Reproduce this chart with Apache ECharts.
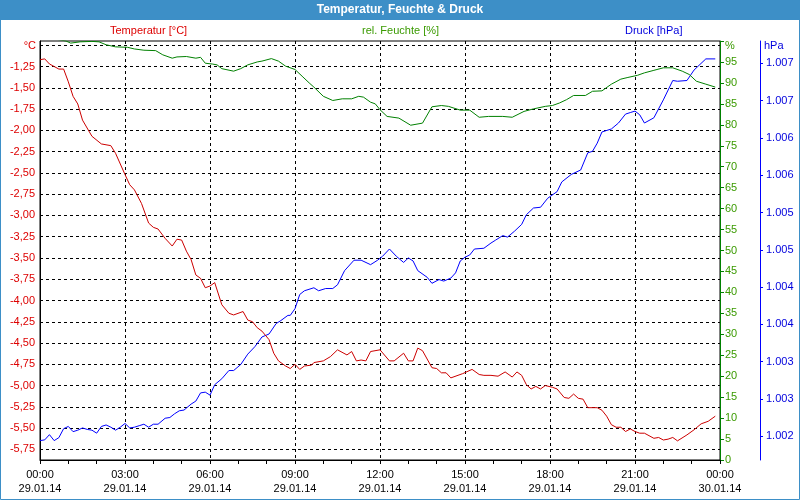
<!DOCTYPE html>
<html>
<head>
<meta charset="utf-8">
<script src="https://cdn.jsdelivr.net/npm/echarts@6/dist/echarts.min.js"></script>
<style>
html,body{margin:0;padding:0;background:#fff;}
#chart{width:800px;height:500px;}
</style>
</head>
<body>
<div id="chart"></div>
<script>
// minutes since 29.01.14 00:00
const tempTime = [0,10,20,30,40,50,60,70,80,90,110,130,150,160,180,190,200,215,230,240,250,265,280,290,300,310,320,330,340,350,360,370,385,400,410,430,440,450,460,470,485,495,505,520,530,540,550,560,575,580,600,615,630,650,660,670,680,690,700,720,740,750,770,780,790,800,810,830,840,850,860,870,895,915,930,940,955,970,985,1000,1010,1020,1030,1040,1050,1060,1070,1085,1095,1110,1120,1130,1140,1150,1160,1180,1190,1200,1210,1220,1230,1240,1250,1260,1270,1280,1300,1310,1320,1330,1340,1350,1370,1385,1400,1415,1430];
const tempValues = [-1.17,-1.16,-1.22,-1.25,-1.28,-1.28,-1.43,-1.60,-1.69,-1.88,-2.07,-2.16,-2.18,-2.27,-2.52,-2.64,-2.70,-2.86,-3.09,-3.14,-3.16,-3.27,-3.36,-3.28,-3.29,-3.42,-3.52,-3.70,-3.74,-3.85,-3.83,-3.79,-4.05,-4.15,-4.17,-4.13,-4.23,-4.25,-4.32,-4.36,-4.46,-4.62,-4.71,-4.77,-4.80,-4.75,-4.81,-4.77,-4.76,-4.73,-4.71,-4.66,-4.58,-4.64,-4.60,-4.71,-4.70,-4.71,-4.60,-4.58,-4.71,-4.71,-4.62,-4.71,-4.71,-4.56,-4.59,-4.79,-4.80,-4.85,-4.85,-4.91,-4.86,-4.81,-4.87,-4.88,-4.88,-4.89,-4.84,-4.90,-4.84,-4.88,-4.99,-5.04,-5.01,-5.04,-5.00,-5.02,-5.04,-5.14,-5.15,-5.10,-5.15,-5.16,-5.26,-5.26,-5.29,-5.36,-5.46,-5.49,-5.49,-5.54,-5.51,-5.54,-5.56,-5.56,-5.62,-5.61,-5.64,-5.63,-5.61,-5.65,-5.58,-5.52,-5.45,-5.42,-5.36];

const humTime = [0,30,55,65,85,110,125,140,160,185,200,220,245,260,280,290,310,330,340,350,365,375,385,410,425,440,460,470,490,505,520,540,555,570,580,600,620,640,660,675,685,700,710,720,735,760,785,810,830,850,865,890,910,930,950,980,1000,1025,1045,1070,1085,1100,1115,1130,1155,1170,1190,1210,1230,1245,1265,1280,1300,1320,1340,1360,1375,1390,1410,1430];
const humValues = [100.8,100.5,100.0,99.5,99.8,99.9,99.8,99.1,98.6,98.5,98.1,97.8,97.7,96.7,95.9,96.2,96.3,95.9,96.1,94.7,94.5,94.3,93.4,92.8,93.4,94.3,95.0,95.2,95.8,95.2,94.0,93.2,91.6,90.0,89.0,86.8,85.8,86.2,86.2,86.8,86.6,85.4,85.0,83.6,82.0,81.6,79.9,80.4,84.3,84.6,84.4,83.5,83.5,81.8,82.0,82.0,81.8,83.2,83.8,84.4,84.6,85.2,86.0,87.0,87.0,88.0,88.1,89.7,90.9,91.3,91.8,92.4,93.0,93.6,93.6,92.8,92.0,90.4,89.7,89.0];

const presTime = [0,10,20,30,40,50,60,70,80,90,100,110,120,130,140,150,160,170,180,190,200,210,220,230,240,250,265,275,285,295,305,320,330,340,350,360,370,385,400,410,425,440,455,470,485,500,510,525,530,540,550,560,580,590,605,620,630,645,665,680,700,715,725,740,755,770,780,790,800,820,830,845,855,870,880,890,900,910,920,940,955,965,980,990,1005,1020,1030,1045,1060,1075,1095,1105,1125,1145,1160,1170,1180,1190,1210,1225,1240,1250,1260,1270,1280,1300,1320,1340,1350,1370,1385,1410,1430];
const presValues = [1001.94,1001.95,1002.02,1001.94,1001.98,1002.10,1002.13,1002.06,1002.08,1002.11,1002.09,1002.08,1002.04,1002.13,1002.15,1002.12,1002.08,1002.12,1002.17,1002.11,1002.12,1002.14,1002.16,1002.12,1002.16,1002.16,1002.24,1002.25,1002.30,1002.34,1002.35,1002.43,1002.47,1002.58,1002.59,1002.55,1002.69,1002.77,1002.88,1002.88,1002.96,1003.10,1003.20,1003.33,1003.37,1003.51,1003.55,1003.62,1003.62,1003.71,1003.90,1003.95,1003.99,1003.95,1003.98,1003.98,1004.03,1004.22,1004.36,1004.36,1004.30,1004.36,1004.41,1004.51,1004.41,1004.33,1004.39,1004.35,1004.22,1004.13,1004.05,1004.10,1004.08,1004.12,1004.19,1004.35,1004.40,1004.43,1004.51,1004.52,1004.59,1004.63,1004.69,1004.67,1004.75,1004.84,1004.97,1005.06,1005.07,1005.19,1005.28,1005.41,1005.51,1005.57,1005.80,1005.82,1005.93,1006.08,1006.12,1006.20,1006.32,1006.34,1006.36,1006.31,1006.20,1006.27,1006.51,1006.77,1006.76,1006.77,1006.91,1007.06,1007.06];

const xTickLabels = ['00:00\n29.01.14','03:00\n29.01.14','06:00\n29.01.14','09:00\n29.01.14','12:00\n29.01.14','15:00\n29.01.14','18:00\n29.01.14','21:00\n29.01.14','00:00\n30.01.14'];
const presTicks = [1002,1002.5,1003,1003.5,1004,1004.5,1005,1005.5,1006,1006.5,1007];

const pair = (t, v) => t.map((x, i) => [x, v[i]]);
const FONT = 'Liberation Sans';
const RED = '#dd0000', GREEN_T = '#3a9a00', BLUE_T = '#0000dd';

const chart = echarts.init(document.getElementById('chart'), null, {renderer: 'canvas'});
chart.setOption({
  animation: false,
  backgroundColor: '#fff',
  textStyle: {fontFamily: FONT},
  graphic: [
    {type: 'rect', shape: {x: 0, y: 0, width: 800, height: 20}, style: {fill: '#3d8fc7'}},
    {type: 'rect', shape: {x: 0.5, y: 0.5, width: 799, height: 499}, style: {fill: 'none', stroke: '#3d8fc7', lineWidth: 1}}
  ],
  title: [
    {text: 'Temperatur, Feuchte & Druck', left: 'center', top: 4, padding: 0,
     textStyle: {color: '#fff', fontSize: 12, fontWeight: 'bold', fontFamily: FONT}},
    {text: 'Temperatur [°C]', left: 110, top: 25, padding: 0,
     textStyle: {color: RED, fontSize: 11, fontWeight: 'normal', fontFamily: FONT}},
    {text: 'rel. Feuchte [%]', left: 362, top: 25, padding: 0,
     textStyle: {color: GREEN_T, fontSize: 11, fontWeight: 'normal', fontFamily: FONT}},
    {text: 'Druck [hPa]', left: 625, top: 25, padding: 0,
     textStyle: {color: BLUE_T, fontSize: 11, fontWeight: 'normal', fontFamily: FONT}}
  ],
  grid: {left: 40, right: 80, top: 41, bottom: 40, show: true, borderColor: '#000', borderWidth: 1, containLabel: false},
  xAxis: {
    type: 'value', min: 0, max: 1440, interval: 180,
    axisLine: {lineStyle: {color: '#000', width: 1}},
    axisTick: {show: true, length: 4, lineStyle: {color: '#000'}},
    minorTick: {show: true, splitNumber: 3, length: 4, lineStyle: {color: '#000'}},
    splitLine: {show: true, showMinLine: false, showMaxLine: false, lineStyle: {color: '#000', type: [3, 3], width: 1}},
    axisLabel: {color: '#000', fontSize: 11, fontFamily: FONT, lineHeight: 14, margin: 8,
      formatter: v => xTickLabels[Math.round(v / 180)] || ''}
  },
  yAxis: [
    {
      type: 'value', position: 'left', min: -5.875, max: -0.95, interval: 0.125,
      axisLine: {show: true, lineStyle: {color: '#000', width: 1}},
      axisTick: {show: false},
      splitLine: {show: true, showMinLine: false, showMaxLine: false,
        lineStyle: {color: ['#000', 'rgba(0,0,0,0)'], type: [3, 3], width: 1}},
      axisLabel: {color: RED, fontSize: 11, fontFamily: FONT, margin: 5,
        formatter: v => {
          const q = v * 4;
          if (Math.abs(q - Math.round(q)) > 1e-6 || v > -1.2) return '';
          return v.toFixed(2).replace('.', ',');
        }},
      name: '°C', nameLocation: 'end', nameGap: -5,
      nameTextStyle: {color: RED, fontSize: 11, fontFamily: FONT, align: 'right', verticalAlign: 'middle', padding: [0, 4, 0, 0]}
    },
    {
      type: 'value', position: 'right', min: 0, max: 100, interval: 5,
      axisLine: {show: true, lineStyle: {color: '#008000', width: 1}},
      axisTick: {show: true, length: 4, lineStyle: {color: '#008000'}},
      splitLine: {show: false},
      axisLabel: {color: GREEN_T, fontSize: 11, fontFamily: FONT, margin: 5,
        formatter: v => v >= 100 ? '' : String(v)},
      name: '%', nameLocation: 'end', nameGap: -5,
      nameTextStyle: {color: GREEN_T, fontSize: 11, fontFamily: FONT, align: 'left', verticalAlign: 'middle', padding: [0, 0, 0, 5]}
    },
    {
      type: 'value', position: 'right', offset: 40, min: 1001.68, max: 1007.3, splitNumber: 11,
      axisLine: {show: true, lineStyle: {color: '#0000ff', width: 1}},
      axisTick: {show: true, length: 3, customValues: presTicks, lineStyle: {color: '#0000ff'}},
      splitLine: {show: false},
      axisLabel: {color: BLUE_T, fontSize: 11, fontFamily: FONT, margin: 6, customValues: presTicks,
        formatter: v => {
          const r = Math.round(v);
          return Math.floor(r / 1000) + '.' + String(r % 1000).padStart(3, '0');
        }},
      name: 'hPa', nameLocation: 'end', nameGap: -5,
      nameTextStyle: {color: BLUE_T, fontSize: 11, fontFamily: FONT, align: 'left', verticalAlign: 'middle', padding: [0, 0, 0, 4]}
    }
  ],
  series: [
    {name: 'Druck [hPa]', type: 'line', yAxisIndex: 2, data: pair(presTime, presValues),
     showSymbol: false, lineStyle: {color: '#0000ff', width: 1}, itemStyle: {color: '#0000ff'}, clip: true},
    {name: 'rel. Feuchte [%]', type: 'line', yAxisIndex: 1, data: pair(humTime, humValues),
     showSymbol: false, lineStyle: {color: '#008000', width: 1}, itemStyle: {color: '#008000'}, clip: true},
    {name: 'Temperatur [°C]', type: 'line', yAxisIndex: 0, data: pair(tempTime, tempValues),
     showSymbol: false, lineStyle: {color: '#cc0000', width: 1}, itemStyle: {color: '#cc0000'}, clip: true}
  ]
});
</script>
</body>
</html>
